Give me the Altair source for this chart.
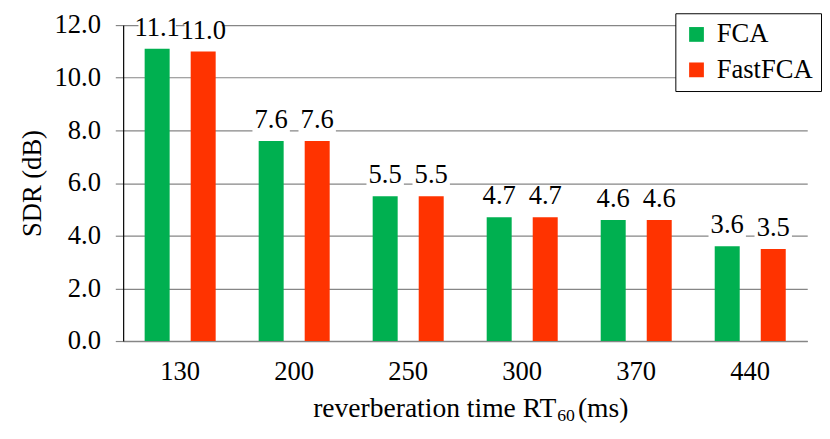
import altair as alt
import pandas as pd

rt60 = ["130", "200", "250", "300", "370", "440"]
fca = [11.1, 7.6, 5.5, 4.7, 4.6, 3.6]
fastfca = [11.0, 7.6, 5.5, 4.7, 4.6, 3.5]
series = ["FCA", "FastFCA"]
colors = ["#00b050", "#ff3300"]
yticks = [0, 2, 4, 6, 8, 10, 12]
title_parts = ["reverberation time RT", "60", "(ms)"]

rows = []
for i, c in enumerate(rt60):
    rows.append({"rt": c, "method": series[0], "sdr": fca[i]})
    rows.append({"rt": c, "method": series[1], "sdr": fastfca[i]})
df = pd.DataFrame(rows)

FONT = "Liberation Serif"
GRID = "#868686"

x = alt.X("rt:N", sort=rt60, scale=alt.Scale(paddingInner=0, paddingOuter=0),
          axis=alt.Axis(title=None, labelAngle=0, ticks=False,
                        domainColor=GRID, domainWidth=1.5, labelFont=FONT, labelFontSize=27,
                        labelColor="black", labelPadding=18))
xo = alt.XOffset("method:N", sort=series, scale=alt.Scale(paddingInner=0.457, paddingOuter=0.467))

yscale = alt.Scale(domain=[0, 12])

base = alt.Chart(df).encode(x=x, xOffset=xo)

bars = base.mark_bar().encode(
    y=alt.Y("sdr:Q", scale=yscale,
            axis=alt.Axis(values=yticks, format=".1f", title="SDR (dB)", grid=True,
                          gridColor=GRID, gridWidth=1.2, domainColor="black", domainWidth=1.2,
                          tickColor=GRID, tickSize=8, tickWidth=1.2, labelFont=FONT,
                          labelFontSize=27, labelColor="black", labelPadding=15,
                          titleFont=FONT, titleFontSize=27, titleFontWeight="normal",
                          titleColor="black", titlePadding=8)),
    color=alt.Color("method:N", sort=series, scale=alt.Scale(domain=series, range=colors),
                    legend=alt.Legend(orient="none", legendX=561, legendY=-12, title=None,
                                      strokeColor="black", fillColor="white", padding=8,
                                      symbolType="square", symbolSize=225, labelFontSize=27,
                                      labelFont=FONT, labelColor="black", rowPadding=8,
                                      labelOffset=7, symbolStrokeWidth=0, symbolOpacity=1)),
)

boxes = base.mark_bar(color="white", width=38).transform_calculate(
    lo="datum.sdr + 0.25", hi="datum.sdr + 1.2"
).encode(
    y=alt.Y("lo:Q", scale=yscale, title="SDR (dB)"),
    y2="hi:Q",
)

labels = base.mark_text(baseline="bottom", dy=-7, fontSize=27, font=FONT, color="black").encode(
    y=alt.Y("sdr:Q", scale=yscale, title="SDR (dB)"),
    text=alt.Text("sdr:Q", format=".1f"),
)

t1 = alt.Chart(pd.DataFrame({"t": [title_parts[0]]})).mark_text(
    font=FONT, fontSize=28, align="right", baseline="alphabetic", color="black"
).encode(x=alt.value(440), y=alt.value(398), text="t:N")
t2 = alt.Chart(pd.DataFrame({"t": [title_parts[1]]})).mark_text(
    font=FONT, fontSize=18, align="left", baseline="alphabetic", color="black"
).encode(x=alt.value(441), y=alt.value(402), text="t:N")
t3 = alt.Chart(pd.DataFrame({"t": [title_parts[2]]})).mark_text(
    font=FONT, fontSize=28, align="left", baseline="alphabetic", color="black"
).encode(x=alt.value(462), y=alt.value(398), text="t:N")

chart = alt.layer(bars, boxes, labels, t1, t2, t3).properties(
    width=695, height=321,
    padding={"left": 10, "top": 0, "right": 0, "bottom": 0},
).configure_view(strokeWidth=0).configure_axisX(labelFont=FONT)

chart.save("out.html", embed_options={"renderer": "svg", "actions": False})
